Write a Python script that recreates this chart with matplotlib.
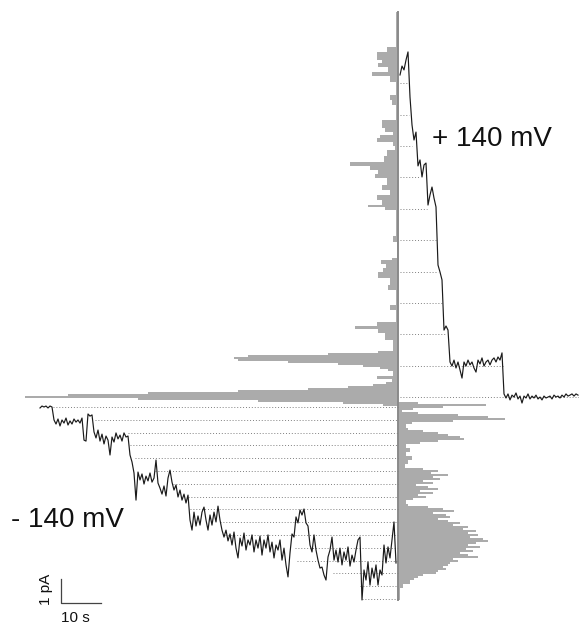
import numpy as np
import matplotlib
matplotlib.use("Agg")
import matplotlib.pyplot as plt

plt.rcParams['font.family'] = ['Liberation Sans', 'DejaVu Sans']

# ---------------- data ----------------
# sampling interval of the digitised traces (s)
DT = 0.5

# +140 mV trace: current (pA), sampled every DT seconds
pos_trace = [13.46, 13.83, 13.67, 14.08, 14.42, 12.54, 11.38, 10.75, 11.08, 9.67,
             9.92, 9.21, 9.71, 9.79, 8.04, 8.46, 8.79, 8.33, 7.96, 5.54,
             5.25, 4.92, 2.83, 3.00, 2.83, 1.50, 1.33, 1.58, 1.25, 1.50,
             1.17, 0.83, 1.50, 1.33, 1.58, 1.38, 1.50, 1.25, 1.08, 1.58,
             1.42, 1.67, 1.33, 1.50, 1.58, 1.38, 1.58, 1.67, 1.50, 1.71,
             1.58, 1.88, 0.17, 0.00, 0.17, -0.08, 0.12, 0.04, 0.21, -0.04,
             0.08, -0.21, 0.08, 0.00, 0.17, -0.04, 0.08, 0.00, 0.12, -0.04,
             0.04, -0.08, 0.08, 0.00, 0.04, 0.08, -0.04, 0.12, 0.04, 0.08,
             0.00, 0.12, 0.04, 0.17, 0.08, 0.12, 0.17, 0.08, 0.17, 0.12]

# -140 mV trace: current (pA) relative to its closed level, sampled every DT seconds
neg_trace = [-0.04, 0.04, 0.00, 0.04, -0.04, 0.04, 0.00, -0.54, -0.71, -0.50,
             -0.79, -0.54, -0.67, -0.46, -0.75, -0.58, -0.71, -0.50, -0.63, -0.54,
             -0.67, -0.46, -1.38, -1.42, -0.29, -0.38, -0.33, -1.04, -1.29, -0.96,
             -1.42, -1.13, -1.54, -1.21, -1.38, -2.00, -1.25, -1.46, -1.08, -1.33,
             -1.17, -1.42, -1.08, -1.25, -1.21, -2.00, -2.29, -2.75, -3.88, -2.71,
             -3.04, -2.79, -3.21, -2.88, -3.08, -2.75, -3.13, -2.96, -2.21, -3.17,
             -3.38, -3.63, -3.29, -3.71, -2.96, -2.63, -3.13, -3.46, -3.25, -3.75,
             -3.46, -3.88, -3.63, -4.00, -3.67, -4.71, -5.13, -4.38, -4.96, -4.54,
             -4.92, -4.38, -4.17, -4.71, -5.13, -4.50, -4.92, -4.38, -4.79, -4.13,
             -4.71, -5.13, -5.42, -5.13, -5.58, -5.29, -5.75, -5.21, -5.88, -6.29,
             -5.46, -5.79, -5.25, -5.96, -5.54, -5.75, -5.33, -6.04, -5.54, -5.88,
             -5.38, -6.17, -5.54, -5.88, -5.33, -6.04, -5.63, -6.29, -5.75, -5.96,
             -5.54, -6.38, -5.88, -6.58, -7.08, -6.08, -5.29, -5.42, -4.58, -4.83,
             -4.29, -4.50, -4.25, -4.83, -4.96, -5.75, -6.04, -5.33, -5.96, -6.38,
             -6.71, -6.67, -7.00, -7.21, -6.25, -5.96, -5.42, -6.38, -5.96, -6.46,
             -5.88, -6.58, -6.04, -6.38, -5.83, -6.63, -6.17, -6.46, -5.96, -5.54,
             -5.42, -8.04, -6.79, -7.21, -6.46, -7.42, -6.71, -7.13, -6.58, -7.42,
             -6.79, -7.00, -5.75, -6.50, -5.83, -6.29, -5.54, -4.79, -6.50]

# conductance levels (pA) and times (s) where the dotted level lines end / start
pos_levels = [0.04, 1.35, 2.65, 3.96, 5.27, 6.58, 7.88, 9.19, 10.50, 11.80, 13.11]
pos_level_end = [44.75, 25.75, 11.25, 10.5, 9.5, 9.25, 6.75, 5.0, 3.0, 2.25, 2.25]
neg_levels = [0.0, -0.53, -1.07, -1.60, -2.13, -2.67, -3.20, -3.73, -4.27, -4.80,
              -5.33, -5.87, -6.40, -6.93, -7.47, -8.00]
neg_level_start = [3.25, 13.75, 22.0, 22.5, 23.75, 28.75, 33.25, 37.0, 37.5, 45.0,
                   46.25, 63.75, 64.25, 73.25, 80.0, 80.5]

# all-points histogram, +140 mV: bin edges (pA) and counts
pos_hist_edges = [16.08, 14.63, 14.42, 14.08, 13.96, 13.79, 13.58, 13.42, 13.17, 12.63,
                  12.42, 12.21, 11.58, 11.25, 11.08, 10.96, 10.83, 10.67, 10.50, 10.33,
                  10.08, 9.83, 9.67, 9.50, 9.33, 9.17, 8.88, 8.67, 8.46, 8.25,
                  8.04, 7.96, 7.83, 6.75, 6.50, 5.83, 5.75, 5.58, 5.42, 5.25,
                  5.00, 4.71, 4.50, 3.88, 3.67, 3.17, 3.00, 2.88, 2.71, 2.42,
                  1.96, 1.88, 1.79, 1.71, 1.63, 1.54, 1.46, 1.38, 1.29, 1.21,
                  1.13, 0.92, 0.79, 0.67, 0.58, 0.50, 0.42, 0.33, 0.25, 0.17,
                  0.08, 0.00, -0.08, -0.17, -0.25, -0.33]
pos_hist_counts = [2, 11, 21, 16, 20, 10, 26, 8, 2, 8,
                   6, 2, 16, 13, 5, 18, 21, 5, 3, 11,
                   14, 48, 28, 20, 23, 11, 16, 8, 21, 16,
                   30, 13, 2, 5, 1, 6, 17, 12, 15, 20,
                   8, 10, 2, 8, 2, 21, 43, 20, 13, 5,
                   20, 70, 150, 164, 160, 110, 60, 35, 18, 10,
                   5, 21, 6, 12, 25, 50, 90, 160, 250, 330,
                   373, 260, 140, 55, 15]

# all-points histogram, -140 mV: first bin top edge (pA), bin width (pA), counts
NEG_HIST_TOP = 0.208
NEG_HIST_BIN = 1 / 12
neg_hist_counts = [20, 88, 45, 15, 4, 20, 60, 90, 107, 55,
                   14, 8, 8, 10, 25, 40, 50, 62, 66, 40,
                   22, 8, 8, 12, 12, 8, 8, 14, 14, 10,
                   10, 7, 7, 25, 40, 33, 50, 35, 42, 25,
                   35, 18, 30, 40, 22, 35, 20, 28, 15, 8,
                   8, 10, 30, 45, 56, 35, 48, 52, 40, 50,
                   62, 55, 70, 65, 78, 70, 80, 72, 85, 90,
                   78, 70, 82, 68, 75, 62, 70, 80, 55, 60,
                   52, 50, 45, 48, 40, 38, 25, 20, 16, 12,
                   12, 5, 5, 2, 2, 2, 2, 2, 2]

labels = ["+ 140 mV", "- 140 mV"]
scale_labels = ["1 pA", "10 s"]

# ---------------- layout ----------------
PX_S = 4.0      # pixels per second
PX_PA = 24.0    # pixels per pA
W, H = 579, 624
Y_ZERO_PX = 398

POS_T0 = 100.0        # s, start of +140 trace
NEG_T0 = 10.0         # s, start of -140 trace
NEG_OFFSET = -0.375   # pA, vertical offset of -140 trace
HIST_X = 99.5         # s, histogram baseline
HIST_SCALE = 0.25     # s per count
AXIS_TOP, AXIS_BOT = 16.08, -8.42

TRACE_C = '#1a1a1a'
HIST_C = '#ababab'
DOT_C = '#808080'

fig = plt.figure(figsize=(W / 100, H / 100), dpi=100)
ax = fig.add_axes([0, 0, 1, 1])
ax.set_xlim(0, W / PX_S)
ax.set_ylim((Y_ZERO_PX - H) / PX_PA, Y_ZERO_PX / PX_PA)
ax.axis('off')


def step_poly(edges, counts):
    ys, xs = [], []
    for i, c in enumerate(counts):
        ys += [edges[i], edges[i + 1]]
        xs += [c, c]
    return np.array(ys), np.array(xs)


# +140 histogram (to the left)
ys, xs = step_poly(pos_hist_edges, pos_hist_counts)
ax.fill_betweenx(ys, HIST_X - xs * HIST_SCALE, HIST_X, color=HIST_C, lw=0, zorder=1)

# -140 histogram (to the right)
neg_edges = [NEG_HIST_TOP - i * NEG_HIST_BIN + NEG_OFFSET for i in range(len(neg_hist_counts) + 1)]
ys, xs = step_poly(neg_edges, neg_hist_counts)
ax.fill_betweenx(ys, HIST_X, HIST_X + xs * HIST_SCALE, color=HIST_C, lw=0, zorder=1)

# central axis
ax.plot([HIST_X, HIST_X], [AXIS_BOT, AXIS_TOP], color='#8a8a8a', lw=1.4, zorder=2)

# dotted level lines
for lev, tend in zip(pos_levels, pos_level_end):
    ax.plot([POS_T0, POS_T0 + tend], [lev, lev], color=DOT_C, lw=0.7,
            ls=(0, (1, 2)), zorder=2)
for lev, tstart in zip(neg_levels, neg_level_start):
    ax.plot([NEG_T0 + tstart, HIST_X], [lev + NEG_OFFSET] * 2, color=DOT_C, lw=0.7,
            ls=(0, (1, 2)), zorder=2)

# traces
tp = POS_T0 + DT * np.arange(len(pos_trace))
ax.plot(tp, pos_trace, color=TRACE_C, lw=0.85, zorder=3)
tn = NEG_T0 + DT * np.arange(len(neg_trace))
ax.plot(tn, np.array(neg_trace) + NEG_OFFSET, color=TRACE_C, lw=0.85, zorder=3)

# labels
ax.text(432 / PX_S, (Y_ZERO_PX - 146) / PX_PA, labels[0], fontsize=20, ha='left',
        va='baseline', color='#111111')
ax.text(11 / PX_S, (Y_ZERO_PX - 527) / PX_PA, labels[1], fontsize=20, ha='left',
        va='baseline', color='#111111')

# scale bar
sb_x, sb_y = 61 / PX_S, (Y_ZERO_PX - 603) / PX_PA
ax.plot([sb_x, sb_x, sb_x + 10], [sb_y + 1, sb_y, sb_y], color='#444444', lw=0.9)
ax.text(sb_x - 3.8, sb_y + 0.55, scale_labels[0], rotation=90, fontsize=11,
        ha='center', va='center', color='#111111')
ax.text(sb_x + 3.6, sb_y - 0.33, scale_labels[1], fontsize=11, ha='center',
        va='top', color='#111111')

fig.savefig('out.png', dpi=100)
